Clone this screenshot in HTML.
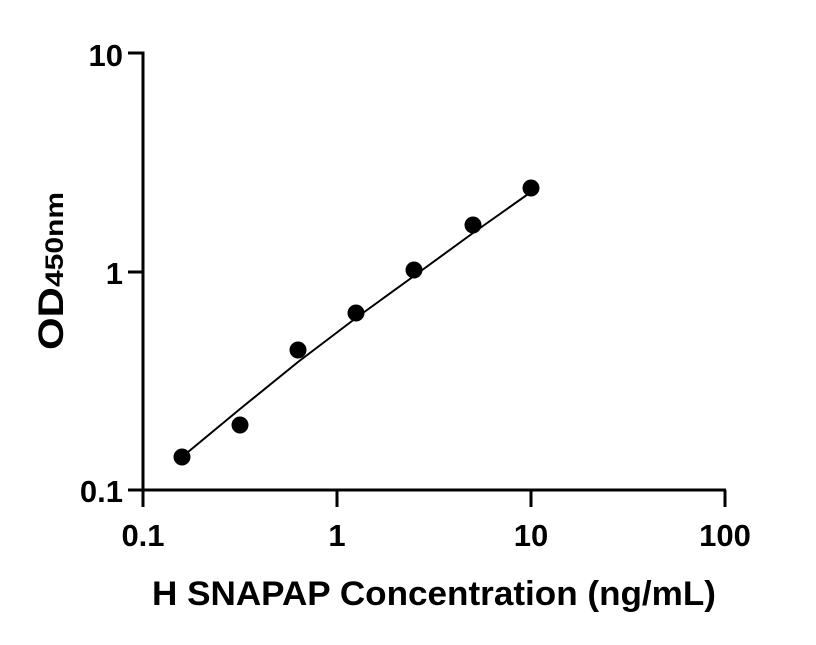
<!DOCTYPE html>
<html><head><style>body{margin:0;background:#fff}svg text{font-family:"Liberation Sans",sans-serif;font-weight:bold;fill:#000}</style></head>
<body>
<svg width="816" height="640" viewBox="0 0 816 640" xmlns="http://www.w3.org/2000/svg">
<g stroke="#000" stroke-width="3" fill="none">
<polyline points="128,53 143,53 143,490 726,490"/>
<line x1="128" y1="272" x2="143" y2="272"/>
<line x1="128" y1="490" x2="143" y2="490"/>
<line x1="143" y1="490" x2="143" y2="507"/>
<line x1="337" y1="490" x2="337" y2="507"/>
<line x1="531" y1="490" x2="531" y2="507"/>
<line x1="725" y1="490" x2="725" y2="507"/>
</g>
<polyline fill="none" stroke="#000" stroke-width="2" points="182,457 240,409 298,362 356,318 414,276 473,233 531,192"/>
<g fill="#000">
<ellipse cx="182" cy="457" rx="8.5" ry="8.5"/>
<ellipse cx="240" cy="425" rx="8.5" ry="8.5"/>
<ellipse cx="298" cy="350" rx="8.5" ry="8.5"/>
<ellipse cx="356" cy="313" rx="8.5" ry="8.5"/>
<ellipse cx="414" cy="270" rx="8.5" ry="8.5"/>
<ellipse cx="473" cy="225" rx="8.5" ry="8.5"/>
<ellipse cx="531" cy="188" rx="8.5" ry="8.5"/>
</g>
<g font-size="31" text-anchor="end">
<text x="123" y="66">10</text>
<text x="123" y="284">1</text>
<text x="123" y="502">0.1</text>
</g>
<g font-size="31" text-anchor="middle">
<text x="143" y="546">0.1</text>
<text x="337" y="546">1</text>
<text x="531" y="546">10</text>
<text x="725" y="546">100</text>
</g>
<text x="152" y="605" font-size="34" textLength="564" lengthAdjust="spacingAndGlyphs">H SNAPAP Concentration (ng/mL)</text>
<text transform="translate(63,350) rotate(-90)" font-size="35" textLength="158" lengthAdjust="spacingAndGlyphs">OD<tspan font-size="25">450nm</tspan></text>
</svg>
</body></html>
